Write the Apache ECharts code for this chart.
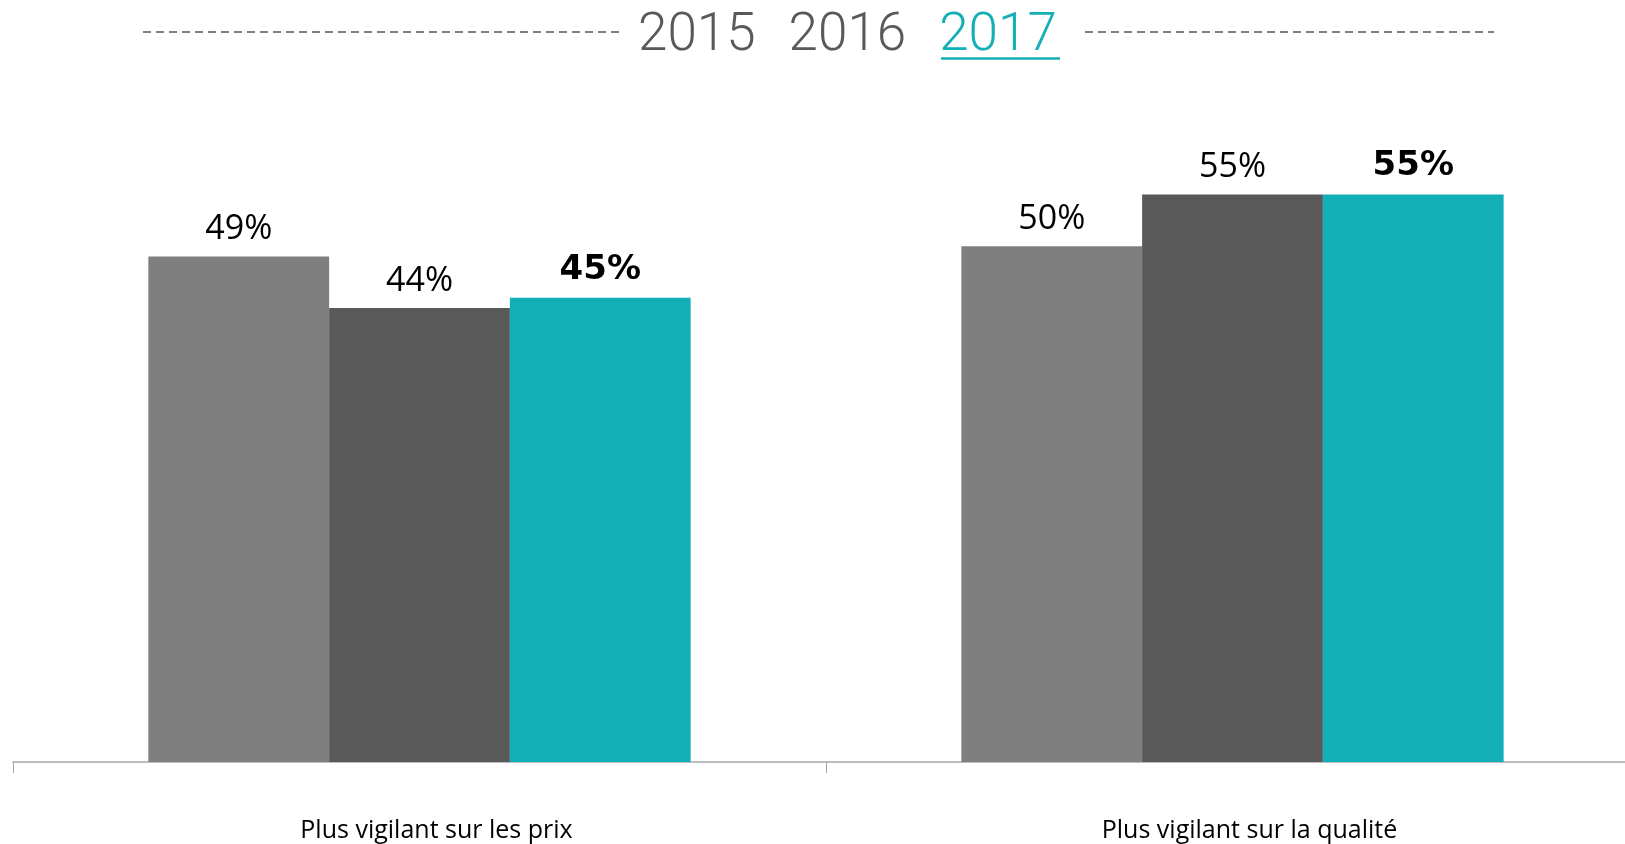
<!DOCTYPE html>
<html>
<head>
<meta charset="utf-8">
<script src="https://cdn.jsdelivr.net/npm/echarts@6/dist/echarts.min.js"></script>
<style>
  html, body { margin: 0; padding: 0; background: #fff; }
  #chart { width: 1625px; height: 844px; }
</style>
</head>
<body>
<div id="chart"></div>
<script>
// categories
const categories = ['Plus vigilant sur les prix', 'Plus vigilant sur la qualité']
// years (legend)
const years = ['2015', '2016', '2017']
// values in %
const values2015 = [49, 50]
const values2016 = [44, 55]
const values2017 = [45, 55]

const chart = echarts.init(document.getElementById('chart'))

// bar colours
const colors = ['#7f7f7f', '#595959', '#13afb6']
const allValues = [values2015, values2016, values2017]

const seriesArr = years.map((year, index) => {
  const last = index === years.length - 1
  return {
    name: year,
    type: 'bar',
    data: allValues[index],
    barGap: '0%',
    barCategoryGap: '33.3%',
    itemStyle: { color: colors[index] },
    label: {
      show: true,
      position: 'top',
      distance: last ? 11 : 10,
      formatter: '{c}%',
      color: '#000',
      fontFamily: last ? 'DejaVu Sans' : 'Open Sans',
      fontWeight: last ? 'bold' : 'normal',
      fontSize: 34,
    },
  }
})

const option = {
  animation: false,
  color: colors,
  legend: {
    data: [
      { name: '2015', textStyle: { color: '#595959' } },
      { name: '2016', textStyle: { color: '#595959' } },
      // 2017 en surbrillance
      { name: '2017', textStyle: { color: '#13afb6' } },
    ],
    icon: 'none',
    itemWidth: 0,
    itemGap: 28,
    left: 628,
    top: 5,
    selectedMode: false,
    textStyle: {
      fontFamily: 'Roboto',
      fontWeight: 300,
      fontSize: 53,
    },
  },
  grid: {
    left: 13,
    width: 1626,
    top: 143,
    bottom: 82,
    outerBoundsMode: 'none',
    containLabel: false,
  },
  xAxis: {
    type: 'category',
    data: categories,
    axisLine: { lineStyle: { color: '#a6a6a6', width: 1.5 } },
    axisTick: { show: true, length: 11, lineStyle: { color: '#a6a6a6' } },
    axisLabel: {
      margin: 56,
      color: '#000',
      fontFamily: 'Open Sans',
      fontSize: 25,
      padding: [0, 0, 0, 34],
    },
  },
  yAxis: {
    type: 'value',
    min: 0,
    max: 60,
    show: false,
    splitLine: { show: false },
  },
  graphic: [
    // lignes pointillées autour du titre
    {
      type: 'line',
      shape: { x1: 143, y1: 32, x2: 623, y2: 32 },
      style: { stroke: '#7f7f7f', lineWidth: 2, lineDash: [8, 5] },
    },
    {
      type: 'line',
      shape: { x1: 1085, y1: 32, x2: 1494, y2: 32 },
      style: { stroke: '#7f7f7f', lineWidth: 2, lineDash: [8, 5] },
    },
    // soulignement 2017
    {
      type: 'line',
      shape: { x1: 941, y1: 58.5, x2: 1060, y2: 58.5 },
      style: { stroke: '#13afb6', lineWidth: 2.5 },
    },
  ],
  series: seriesArr,
}

chart.setOption(option)
</script>
</body>
</html>
